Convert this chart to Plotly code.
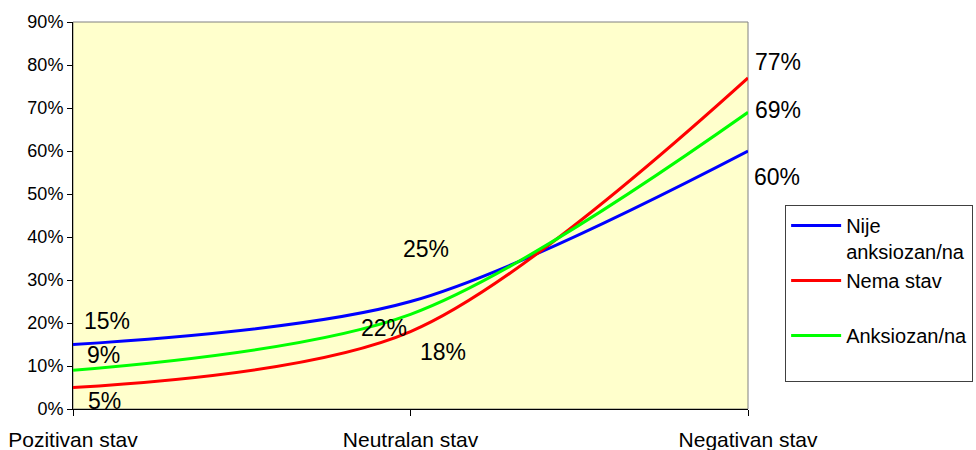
import plotly.graph_objects as go

categories = ["Pozitivan stav", "Neutralan stav", "Negativan stav"]
nije_anksiozan = [15, 25, 60]
nema_stav = [5, 18, 77]
anksiozan = [9, 22, 69]
series_names = ["Nije<br>anksiozan/na", "Nema stav<br> ", "Anksiozan/na<br> "]
y_ticks = [0, 10, 20, 30, 40, 50, 60, 70, 80, 90]
y_ticktext = [f"{v}%" for v in y_ticks]

colors = ["#0000FF", "#FF0000", "#00FF00"]
series = [nije_anksiozan, nema_stav, anksiozan]

fig = go.Figure()
for name, vals, col in zip(series_names, series, colors):
    fig.add_trace(go.Scatter(
        x=categories, y=vals, name=name, mode="lines",
        line=dict(color=col, width=3, shape="spline", smoothing=0.9),
    ))

# label offsets (pixels) per series per category
offsets = [
    [(34, 24), (15, 53), (29, -26)],   # blue
    [(31, -13), (32, -20), (30, 16)],  # red
    [(30, 15), (-27, -14), (30, 2)],   # green
]
for vals, offs in zip(series, offsets):
    for c, v, (dx, dy) in zip(categories, vals, offs):
        fig.add_annotation(x=c, y=v, xref="x", yref="y", text=f"{v}%",
                           showarrow=False, xshift=dx, yshift=dy,
                           font=dict(size=23, color="black",
                                     family="Liberation Sans, Arial, sans-serif"))

# plot area border (gray)
fig.add_shape(type="rect", xref="paper", yref="paper", x0=0, x1=1, y0=0, y1=1,
              line=dict(color="#808080", width=1), layer="below")

fig.update_layout(
    width=976, height=450,
    margin=dict(l=73, r=228, t=22, b=41, autoexpand=False),
    paper_bgcolor="white",
    plot_bgcolor="#FFFFCC",
    font=dict(family="Liberation Sans, Arial, sans-serif", color="black"),
    showlegend=True,
    legend=dict(
        x=1.055, y=0.527, xanchor="left", yanchor="top",
        bgcolor="white", bordercolor="#404040", borderwidth=1,
        font=dict(size=20, color="black"),
        valign="top", tracegroupgap=0, itemwidth=50,
    ),
)
fig.update_xaxes(
    type="category", range=[0, 2], showgrid=False,
    showline=True, linecolor="black", linewidth=1,
    ticks="outside", ticklen=6, tickcolor="black",
    tickfont=dict(size=21), ticklabelstandoff=6,
    zeroline=False,
)
fig.update_yaxes(
    range=[0, 90], tickvals=y_ticks, ticktext=y_ticktext,
    showgrid=False, showline=True, linecolor="black", linewidth=1,
    ticks="outside", ticklen=5, tickcolor="black",
    tickfont=dict(size=18), zeroline=False,
)

fig.write_html(
    "out.html",
    config={"displayModeBar": False},
    post_script="document.body.style.margin='0';document.body.style.overflow='hidden';",
)
